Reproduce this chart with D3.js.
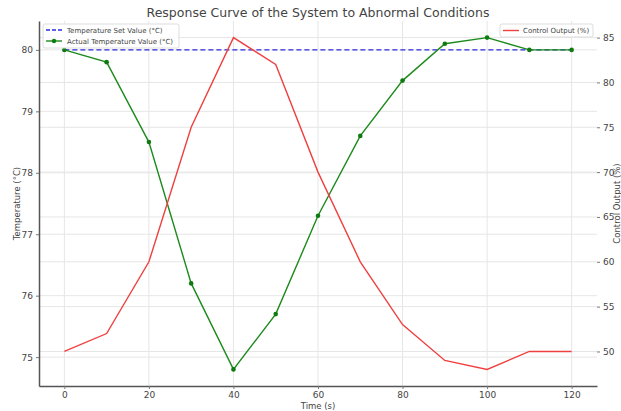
<!DOCTYPE html>
<html>
<head>
<meta charset="utf-8">
<script src="https://cdn.jsdelivr.net/npm/d3@7"></script>
<style>
  body { margin: 0; background: #fff; }
  text { font-family: "DejaVu Sans", sans-serif; fill: #444; }
</style>
</head>
<body>
<svg id="chart" width="621" height="411"></svg>
<script>
// data
var times = [0, 10, 20, 30, 40, 50, 60, 70, 80, 90, 100, 110, 120];
var setTemp = [80, 80, 80, 80, 80, 80, 80, 80, 80, 80, 80, 80, 80];
var actualTemp = [80, 79.8, 78.5, 76.2, 74.8, 75.7, 77.3, 78.6, 79.5, 80.1, 80.2, 80, 80];
var controlOut = [50, 52, 60, 75, 85, 82, 70, 60, 53, 49, 48, 50, 50];
var xTicks = [0, 20, 40, 60, 80, 100, 120];
var leftTicks = [75, 76, 77, 78, 79, 80];
var rightTicks = [50, 55, 60, 65, 70, 75, 80, 85];

var svg = d3.select("#chart");
var pLeft = 39, pRight = 597, pTop = 21, pBottom = 386;

var x = d3.scaleLinear().domain([-6, 126]).range([pLeft, pRight]);
var yL = d3.scaleLinear().domain([74.53, 80.47]).range([pBottom, pTop]);
var yR = d3.scaleLinear().domain([46.15, 86.85]).range([pBottom, pTop]);

// grid
var grid = svg.append("g").attr("stroke", "#e6e6e6").attr("stroke-width", 1);
xTicks.forEach(function (t) {
    grid.append("line").attr("x1", x(t)).attr("x2", x(t)).attr("y1", pTop).attr("y2", pBottom);
});
leftTicks.forEach(function (t) {
    grid.append("line").attr("x1", pLeft).attr("x2", pRight).attr("y1", yL(t)).attr("y2", yL(t));
});
rightTicks.forEach(function (t) {
    grid.append("line").attr("x1", pLeft).attr("x2", pRight).attr("y1", yR(t)).attr("y2", yR(t));
});

// axes
var fmt = d3.format("d");
var xAxis = svg.append("g").attr("transform", "translate(0," + pBottom + ")")
    .call(d3.axisBottom(x).tickValues(xTicks).tickFormat(fmt).tickSize(3).tickSizeOuter(0).tickPadding(3));
var lAxis = svg.append("g").attr("transform", "translate(" + pLeft + ",0)")
    .call(d3.axisLeft(yL).tickValues(leftTicks).tickFormat(fmt).tickSize(3).tickSizeOuter(0).tickPadding(3));
var rAxis = svg.append("g").attr("transform", "translate(" + pRight + ",0)")
    .call(d3.axisRight(yR).tickValues(rightTicks).tickFormat(fmt).tickSize(3).tickSizeOuter(0).tickPadding(3));

[xAxis, lAxis, rAxis].forEach(function (a) {
    a.selectAll("text").style("font-size", "9px").attr("fill", "#444");
    a.selectAll(".tick line").attr("stroke", "#777");
});
xAxis.select(".domain").attr("stroke", "#555").attr("stroke-width", 1.5);
lAxis.select(".domain").attr("stroke", "#555").attr("stroke-width", 1.5);
rAxis.select(".domain").remove();

// lines
var lineL = function (vals) {
    return d3.line().x(function (d, i) { return x(times[i]); }).y(function (d) { return yL(d); })(vals);
};
var lineR = d3.line().x(function (d, i) { return x(times[i]); }).y(function (d) { return yR(d); });

svg.append("path").attr("d", lineL(setTemp))
    .attr("fill", "none").attr("stroke", "#2b2bdf").attr("stroke-width", 1.3)
    .attr("stroke-dasharray", "5,3");
svg.append("path").attr("d", lineL(actualTemp))
    .attr("fill", "none").attr("stroke", "#1c8a1c").attr("stroke-width", 1.4);
svg.selectAll(".dot").data(actualTemp).enter().append("circle")
    .attr("cx", function (d, i) { return x(times[i]); })
    .attr("cy", function (d) { return yL(d); })
    .attr("r", 2.3).attr("fill", "#0f7a0f");
svg.append("path").attr("d", lineR(controlOut))
    .attr("fill", "none").attr("stroke", "#ef4040").attr("stroke-width", 1.4);

// titles
svg.append("text").attr("x", 318).attr("y", 17).attr("text-anchor", "middle")
    .style("font-size", "12.5px").attr("fill", "#333")
    .text("Response Curve of the System to Abnormal Conditions");
svg.append("text").attr("x", 318).attr("y", 409).attr("text-anchor", "middle")
    .style("font-size", "8.5px").text("Time (s)");
svg.append("text").attr("transform", "translate(20," + ((pTop + pBottom) / 2) + ") rotate(-90)")
    .attr("text-anchor", "middle").style("font-size", "8.5px").text("Temperature (°C)");
svg.append("text").attr("transform", "translate(620," + ((pTop + pBottom) / 2) + ") rotate(-90)")
    .attr("text-anchor", "middle").style("font-size", "8.5px").text("Control Output (%)");

// legend left
var lg = svg.append("g");
lg.append("rect").attr("x", 43).attr("y", 24).attr("width", 136).attr("height", 24)
    .attr("rx", 2).attr("fill", "#fff").attr("fill-opacity", 0.85).attr("stroke", "#ddd");
lg.append("line").attr("x1", 46).attr("x2", 62).attr("y1", 30).attr("y2", 30)
    .attr("stroke", "#2b2bdf").attr("stroke-width", 1.3).attr("stroke-dasharray", "4,2");
lg.append("text").attr("x", 67).attr("y", 33).style("font-size", "7px").text("Temperature Set Value (°C)");
lg.append("line").attr("x1", 46).attr("x2", 62).attr("y1", 41).attr("y2", 41)
    .attr("stroke", "#1c8a1c").attr("stroke-width", 1.4);
lg.append("circle").attr("cx", 54).attr("cy", 41).attr("r", 2.2).attr("fill", "#0f7a0f");
lg.append("text").attr("x", 67).attr("y", 44).style("font-size", "7px").text("Actual Temperature Value (°C)");

// legend right
var rg = svg.append("g");
rg.append("rect").attr("x", 500).attr("y", 24).attr("width", 93).attr("height", 13)
    .attr("rx", 2).attr("fill", "#fff").attr("fill-opacity", 0.85).attr("stroke", "#ddd");
rg.append("line").attr("x1", 503).attr("x2", 519).attr("y1", 30.5).attr("y2", 30.5)
    .attr("stroke", "#ef4040").attr("stroke-width", 1.4);
rg.append("text").attr("x", 523).attr("y", 33).style("font-size", "7px").text("Control Output (%)");
</script>
</body>
</html>
